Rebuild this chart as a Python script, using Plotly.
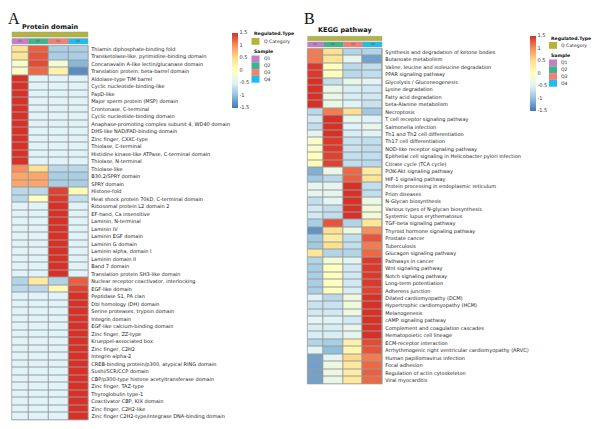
import plotly.graph_objects as go

W, H = 600, 429
OFF = 8  # page body margin in the browser

samples = ["Q1", "Q2", "Q3", "Q4"]
sample_colors = ["#C77DC8", "#3DB58A", "#F28079", "#1EBDEE"]
category_label = "Q Category"
category_color = "#B4B43C"

protein_domains = [
    "Thiamin diphosphate-binding fold",
    "Transketolase-like, pyrimidine-binding domain",
    "Concanavalin A-like lectin/glucanase domain",
    "Translation protein, beta-barrel domain",
    "Aldolase-type TIM barrel",
    "Cyclic nucleotide-binding-like",
    "PapD-like",
    "Major sperm protein (MSP) domain",
    "Crontonase, C-terminal",
    "Cyclic nucleotide-binding domain",
    "Anaphase-promoting complex subunit 4, WD40 domain",
    "DHS-like NAD/FAD-binding domain",
    "Zinc finger, CXXC-type",
    "Thiolase, C-terminal",
    "Histidine kinase-like ATPase, C-terminal domain",
    "Thiolase, N-terminal",
    "Thiolase-like",
    "B30.2/SPRY domain",
    "SPRY domain",
    "Histone-fold",
    "Heat shock protein 70kD, C-terminal domain",
    "Ribosomal protein L2 domain 2",
    "EF-hand, Ca insensitive",
    "Laminin, N-terminal",
    "Laminin IV",
    "Laminin EGF domain",
    "Laminin G domain",
    "Laminin alpha, domain I",
    "Laminin domain II",
    "Band 7 domain",
    "Translation protein SH3-like domain",
    "Nuclear receptor coactivator, interlocking",
    "EGF-like domain",
    "Peptidase S1, PA clan",
    "Dbl homology (DH) domain",
    "Serine proteases, trypsin domain",
    "Integrin domain",
    "EGF-like calcium-binding domain",
    "Zinc finger, ZZ-type",
    "Krueppel-associated box",
    "Zinc finger, C2H2",
    "Integrin alpha-2",
    "CREB-binding protein/p300, atypical RING domain",
    "Sushi/SCR/CCP domain",
    "CBP/p300-type histone acetyltransferase domain",
    "Zinc finger, TAZ-type",
    "Thyroglobulin type-1",
    "Coactivator CBP, KIX domain",
    "Zinc finger, C2H2-like",
    "Zinc finger C2H2-type/integrase DNA-binding domain",
]
protein_q1 = [0.45, 0.4, -0.1, -0.05,
              1.5, 1.5, 1.5, 1.5, 1.5, 1.5, 1.5, 1.5, 1.5, 1.5, 1.5, 1.5,
              1.0, 0.85, 0.85, -0.75, -0.75,
              -0.5, -0.5, -0.5, -0.5, -0.5, -0.5, -0.5, -0.5, -0.5, -0.5,
              -0.8, -0.75,
              -0.5, -0.5, -0.5, -0.5, -0.5, -0.5, -0.5, -0.5, -0.5, -0.5, -0.5, -0.5, -0.5, -0.5, -0.5, -0.5, -0.5]
protein_q2 = [1.25, 1.3, 1.35, 1.2,
              -0.5, -0.5, -0.5, -0.5, -0.5, -0.5, -0.5, -0.5, -0.5, -0.5, -0.5, -0.5,
              0.5, 0.85, 0.85, -0.75, 0.0,
              -0.5, -0.5, -0.5, -0.5, -0.5, -0.5, -0.5, -0.5, -0.5, -0.5,
              0.35, -0.75,
              -0.5, -0.5, -0.5, -0.5, -0.5, -0.5, -0.5, -0.5, -0.5, -0.5, -0.5, -0.5, -0.5, -0.5, -0.5, -0.5, -0.5]
protein_q3 = [-0.85, -0.85, -0.2, 0.2,
              -0.5, -0.5, -0.5, -0.5, -0.5, -0.5, -0.5, -0.5, -0.5, -0.5, -0.5, -0.5,
              -0.75, -0.85, -0.85, 1.4, 1.45,
              1.5, 1.5, 1.5, 1.5, 1.5, 1.5, 1.5, 1.5, 1.5, 1.5,
              -0.8, 0.1,
              -0.5, -0.5, -0.5, -0.5, -0.5, -0.5, -0.5, -0.5, -0.5, -0.5, -0.5, -0.5, -0.5, -0.5, -0.5, -0.5, -0.5]
protein_q4 = [-0.85, -0.85, -1.05, -1.35,
              -0.5, -0.5, -0.5, -0.5, -0.5, -0.5, -0.5, -0.5, -0.5, -0.5, -0.5, -0.5,
              -0.75, -0.85, -0.85, 0.1, -0.7,
              -0.5, -0.5, -0.5, -0.5, -0.5, -0.5, -0.5, -0.5, -0.5, -0.5,
              1.25, 1.4,
              1.5, 1.5, 1.5, 1.5, 1.5, 1.5, 1.5, 1.5, 1.5, 1.5, 1.5, 1.5, 1.5, 1.5, 1.5, 1.5, 1.5]

kegg_pathways = [
    "Synthesis and degradation of ketone bodies",
    "Butanoate metabolism",
    "Valine, leucine and isoleucine degradation",
    "PPAR signaling pathway",
    "Glycolysis / Gluconeogenesis",
    "Lysine degradation",
    "Fatty acid degradation",
    "beta-Alanine metabolism",
    "Necroptosis",
    "T cell receptor signaling pathway",
    "Salmonella infection",
    "Th1 and Th2 cell differentiation",
    "Th17 cell differentiation",
    "NOD-like receptor signaling pathway",
    "Epithelial cell signaling in Helicobacter pylori infection",
    "Citrate cycle (TCA cycle)",
    "PI3K-Akt signaling pathway",
    "HIF-1 signaling pathway",
    "Protein processing in endoplasmic reticulum",
    "Prion diseases",
    "N-Glycan biosynthesis",
    "Various types of N-glycan biosynthesis",
    "Systemic lupus erythematosus",
    "TGF-beta signaling pathway",
    "Thyroid hormone signaling pathway",
    "Prostate cancer",
    "Tuberculosis",
    "Glucagon signaling pathway",
    "Pathways in cancer",
    "Wnt signaling pathway",
    "Notch signaling pathway",
    "Long-term potentiation",
    "Adherens junction",
    "Dilated cardiomyopathy (DCM)",
    "Hypertrophic cardiomyopathy (HCM)",
    "Melanogenesis",
    "cAMP signaling pathway",
    "Complement and coagulation cascades",
    "Hematopoietic cell lineage",
    "ECM-receptor interaction",
    "Arrhythmogenic right ventricular cardiomyopathy (ARVC)",
    "Human papillomavirus infection",
    "Focal adhesion",
    "Regulation of actin cytoskeleton",
    "Viral myocarditis",
]
kegg_q1 = [1.1, 1.1, 1.45, 1.45, 1.5, 1.5, 1.5, 1.5,
           -0.75, -0.6, -0.7, -0.45, -0.1, -0.1, 0.0, 0.05,
           -1.1, -0.9, -0.4, -0.4, -0.7, -0.6, -0.6,
           -0.85, -1.3, -0.9, -0.9, 0.4, -0.8,
           -0.85, -0.85, -0.85, -0.85,
           -0.5, -0.65, -0.6, -0.45, -0.55, -0.55,
           -0.8, -0.45, -1.2, -1.2, -1.2, -1.2]
kegg_q2 = [0.5, 0.4, 0.0, 0.0, -0.7, -0.35, -0.35, -0.35,
           1.1, 1.5, 1.5, 1.5, 1.45, 1.45, 1.4, 1.4,
           -0.35, -0.75, -0.4, -0.4, -0.45, -0.7, -0.7,
           1.3, 0.5, 0.3, 0.5, -0.8, -0.2,
           0.0, 0.0, 0.0, 0.0,
           -0.75, -0.65, -0.6, -0.5, -0.55, -0.55,
           -0.85, -1.0, -0.45, -0.3, -0.3, -0.35]
kegg_q3 = [-0.8, -0.4, -0.75, -0.75, -0.35, -0.55, -0.55, -0.5,
           0.5, -0.4, -0.5, -0.55, -0.65, -0.65, -0.7, -0.7,
           1.2, 1.25, 1.5, 1.5, 1.5, 1.5, 1.5,
           -0.8, -0.3, -0.7, -0.7, -0.8, -0.45,
           -0.6, -0.6, -0.6, -0.55,
           -0.25, -0.25, -0.3, -0.6, -0.4, -0.4,
           0.25, 0.15, 0.55, 0.35, 0.3, 0.35]
kegg_q4 = [-0.8, -1.2, -0.7, -0.7, -0.45, -0.6, -0.6, -0.65,
           -0.9, -0.5, -0.35, -0.5, -0.7, -0.7, -0.7, -0.75,
           0.3, 0.4, -0.7, -0.7, -0.3, -0.2, -0.2,
           0.4, 1.0, 1.3, 1.1, 1.2, 1.45,
           1.45, 1.45, 1.45, 1.4,
           1.5, 1.5, 1.5, 1.5, 1.5, 1.5,
           1.35, 1.3, 1.1, 1.2, 1.25, 1.2]

colorbar_ticks = [1.5, 1, 0.5, 0, -0.5, -1, -1.5]

# ---- style / layout constants ----
COLORSCALE = [[0.0, "#4575B4"], [1/6, "#91BFDB"], [2/6, "#E0F3F8"], [3/6, "#FFFFBF"],
              [4/6, "#FEE090"], [5/6, "#FC8D59"], [1.0, "#D73027"]]
FONT = "DejaVu Sans"
BORDER = "#9a9a9a"
COL_REL_WIDTH = [0.835, 1.0, 1.0, 1.0]
edges = [0.0]
for w_ in COL_REL_WIDTH:
    edges.append(edges[-1] + w_)

FW, FH = W - OFF, H - OFF


def px(x):
    return (x - OFF) / FW


def py(y):
    return 1 - (y - OFF) / FH


panels = [
    dict(key="", x0=11.7, x1=88.3, y0=45.5, y1=420, labels=protein_domains,
         cols=[protein_q1, protein_q2, protein_q3, protein_q4],
         title="Protein domain", title_x=20, title_y=26.5, letter="A", letter_x=6,
         bar_cat=(32, 37), bar_samp=(38.5, 44),
         cb_x=232, cb_y0=32.7, cb_y1=107.3, leg_x=251.5, leg_top=34),
    dict(key="2", x0=307.3, x1=382.3, y0=48.5, y1=384, labels=kegg_pathways,
         cols=[kegg_q1, kegg_q2, kegg_q3, kegg_q4],
         title="KEGG pathway", title_x=316, title_y=30.5, letter="B", letter_x=302,
         bar_cat=(36.3, 40.7), bar_samp=(42, 47),
         cb_x=530, cb_y0=35.7, cb_y1=111, leg_x=549, leg_top=38),
]

fig = go.Figure()
shapes = []
annotations = []

for p in panels:
    z = [list(r) for r in zip(*p["cols"])]
    xa = "x" + p["key"]
    ya = "y" + p["key"]
    cb_len = p["cb_y1"] - p["cb_y0"]
    fig.add_trace(go.Heatmap(
        z=z, x=edges, y=p["labels"], xaxis=xa, yaxis=ya,
        colorscale=COLORSCALE, zmin=-1.5, zmax=1.5, xgap=1, ygap=1,
        hoverinfo="skip",
        colorbar=dict(
            x=px(p["cb_x"]), xanchor="left", y=py(p["cb_y0"]), yanchor="top",
            len=cb_len, lenmode="pixels", thickness=5.5, thicknessmode="pixels",
            xpad=0, ypad=0, outlinewidth=0, ticks="",
            tickvals=colorbar_ticks, ticktext=[f"{t:g}" for t in colorbar_ticks],
            tickfont=dict(family=FONT, size=5, color="#333"),
        ),
    ))
    ax_name = "xaxis" + p["key"]
    ay_name = "yaxis" + p["key"]
    fig.update_layout(**{
        ax_name: dict(domain=[px(p["x0"]), px(p["x1"])], range=[0, edges[-1]],
                      visible=False, anchor=ya),
        ay_name: dict(domain=[py(p["y1"]), py(p["y0"])], autorange="reversed",
                      side="right", ticks="", showgrid=False, zeroline=False,
                      ticklabelstandoff=2, anchor=xa, showline=False,
                      tickfont=dict(family=FONT, size=5, color="#222")),
    })
    shapes.append(dict(type="rect", xref="paper", yref="paper",
                       x0=px(p["x0"]), x1=px(p["x1"]), y0=py(p["y1"]), y1=py(p["y0"]),
                       line=dict(color=BORDER, width=0.6), fillcolor="rgba(0,0,0,0)"))
    for i in range(4):
        shapes.append(dict(type="rect", xref=xa, yref="paper",
                           x0=edges[i], x1=edges[i + 1],
                           y0=py(p["bar_cat"][1]), y1=py(p["bar_cat"][0]),
                           fillcolor=category_color, line=dict(color=BORDER, width=0.5)))
        shapes.append(dict(type="rect", xref=xa, yref="paper",
                           x0=edges[i], x1=edges[i + 1],
                           y0=py(p["bar_samp"][1]), y1=py(p["bar_samp"][0]),
                           fillcolor=sample_colors[i], line=dict(color=BORDER, width=0.5)))
        annotations.append(dict(xref=xa, yref="paper", x=(edges[i] + edges[i + 1]) / 2,
                                y=py(sum(p["bar_samp"]) / 2), text=samples[i], showarrow=False,
                                font=dict(family=FONT, size=3, color="#555"),
                                xanchor="center", yanchor="middle"))
    annotations.append(dict(xref="paper", yref="paper", x=px(p["title_x"]), y=py(p["title_y"]),
                            text="<b>" + p["title"] + "</b>", showarrow=False,
                            xanchor="left", yanchor="middle",
                            font=dict(family=FONT, size=6.5, color="#111")))
    annotations.append(dict(xref="paper", yref="paper", x=px(p["letter_x"]), y=1.0,
                            text=p["letter"], showarrow=False, xanchor="left", yanchor="top",
                            font=dict(family="Liberation Serif", size=16, color="#111")))
    lx = p["leg_x"]
    ty = p["leg_top"]
    sq = 6.8
    annotations.append(dict(xref="paper", yref="paper", x=px(lx), y=py(ty), text="<b>Regulated.Type</b>",
                            showarrow=False, xanchor="left", yanchor="middle",
                            font=dict(family=FONT, size=4.6, color="#111")))
    shapes.append(dict(type="rect", xref="paper", yref="paper", x0=px(lx), x1=px(lx + 8),
                       y0=py(ty + 4 + sq), y1=py(ty + 4), fillcolor=category_color, line=dict(width=0)))
    annotations.append(dict(xref="paper", yref="paper", x=px(lx + 10), y=py(ty + 4 + sq / 2),
                            text=category_label, showarrow=False, xanchor="left", yanchor="middle",
                            font=dict(family=FONT, size=4.6, color="#222")))
    sy = ty + 17.5
    annotations.append(dict(xref="paper", yref="paper", x=px(lx), y=py(sy), text="<b>Sample</b>",
                            showarrow=False, xanchor="left", yanchor="middle",
                            font=dict(family=FONT, size=4.6, color="#111")))
    for i in range(4):
        y0 = sy + 4 + i * sq
        shapes.append(dict(type="rect", xref="paper", yref="paper", x0=px(lx), x1=px(lx + 8),
                           y0=py(y0 + sq), y1=py(y0), fillcolor=sample_colors[i], line=dict(width=0)))
        annotations.append(dict(xref="paper", yref="paper", x=px(lx + 10), y=py(y0 + sq / 2),
                                text=samples[i], showarrow=False, xanchor="left", yanchor="middle",
                                font=dict(family=FONT, size=4.6, color="#222")))

fig.update_layout(
    width=FW, height=FH, margin=dict(l=0, r=0, t=0, b=0),
    paper_bgcolor="white", plot_bgcolor=BORDER,
    shapes=shapes, annotations=annotations, showlegend=False,
)

fig.write_html("out.html")
